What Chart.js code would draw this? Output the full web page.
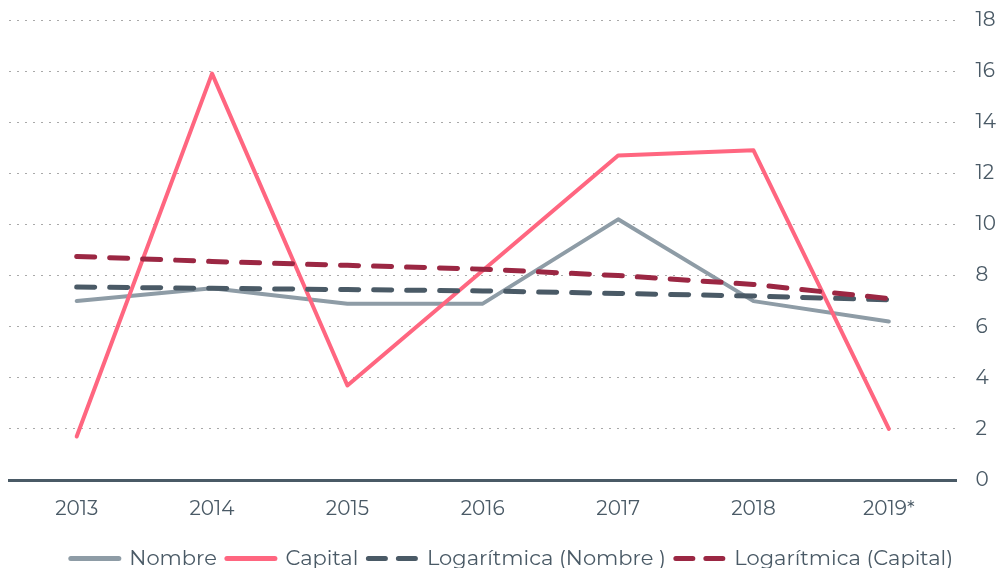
<!DOCTYPE html>
<html>
<head>
<meta charset="utf-8">
<script src="https://cdn.jsdelivr.net/npm/chart.js@4"></script>
<style>
  html, body { margin: 0; padding: 0; background: #fff; }
  #wrap { width: 1003px; height: 568px; }
</style>
</head>
<body>
<div id="wrap"><canvas id="lineChart"></canvas></div>
<script>
const years = ["2013", "2014", "2015", "2016", "2017", "2018", "2019*"];
const nombre = [7.0, 7.5, 6.9, 6.9, 10.2, 7.0, 6.2];
const capital = [1.7, 15.9, 3.7, 8.2, 12.7, 12.9, 2.0];
const logNombre = [7.55, 7.5, 7.45, 7.4, 7.3, 7.2, 7.05];
const logCapital = [8.75, 8.55, 8.4, 8.25, 8.0, 7.65, 7.1];
const yTicks = [0, 2, 4, 6, 8, 10, 12, 14, 16, 18];

const textColor = "#4a5a66";
const fontFamily = "Montserrat, 'Open Sans', sans-serif";

function drawLineChart() {
    "use strict";
    let ctx = document.getElementById("lineChart");
    let lineChart = new Chart(ctx, {
        type: 'line',
        data: {
            labels: years,
            datasets: [{
                label: "Nombre",
                borderColor: "#8e9ca6",
                backgroundColor: "#8e9ca6",
                borderWidth: 4,
                data: nombre,
                order: 4
            }, {
                label: "Capital",
                borderColor: "#ff6680",
                backgroundColor: "#ff6680",
                borderWidth: 4,
                data: capital,
                order: 3
            }, {
                label: "Logarítmica (Nombre )",
                borderColor: "#4a5a66",
                backgroundColor: "#4a5a66",
                borderWidth: 5,
                borderDash: [18, 15],
                borderCapStyle: 'round',
                data: logNombre,
                order: 2
            }, {
                label: "Logarítmica (Capital)",
                borderColor: "#9b2743",
                backgroundColor: "#9b2743",
                borderWidth: 5,
                borderDash: [18, 15],
                borderCapStyle: 'round',
                data: logCapital,
                order: 1
            }]
        },
        options: {
            responsive: true,
            maintainAspectRatio: false,
            animation: false,
            layout: {
                padding: { top: 20, left: 9, right: -12, bottom: -11 }
            },
            elements: {
                line: { tension: 0, borderCapStyle: 'round', borderJoinStyle: 'round' },
                point: { radius: 0 }
            },
            plugins: {
                tooltip: { enabled: false },
                legend: {
                    position: 'bottom',
                    sort: (a, b) => a.datasetIndex - b.datasetIndex,
                    labels: {
                        usePointStyle: true,
                        pointStyle: 'line',
                        pointStyleWidth: 48,
                        boxWidth: 48,
                        boxHeight: 20,
                        padding: 10,
                        color: textColor,
                        font: { family: fontFamily, size: 21 },
                        generateLabels: function (chart) {
                            return chart.data.datasets.map((ds, i) => ({
                                text: ds.label,
                                fillStyle: ds.borderColor,
                                strokeStyle: ds.borderColor,
                                lineWidth: 5,
                                lineDash: ds.borderDash ? [17, 13] : [],
                                lineCap: 'round',
                                pointStyle: 'line',
                                fontColor: textColor,
                                datasetIndex: i,
                                hidden: false
                            }));
                        }
                    }
                }
            },
            scales: {
                x: {
                    offset: true,
                    grid: { display: false, drawTicks: false, offset: true },
                    border: { display: true, color: "#4a5a66", width: 3 },
                    ticks: {
                        color: textColor,
                        padding: 17,
                        font: { family: fontFamily, size: 20 }
                    }
                },
                y: {
                    position: 'right',
                    min: 0,
                    max: 18,
                    afterBuildTicks: function (axis) {
                        axis.ticks = yTicks.map(v => ({ value: v }));
                    },
                    afterFit: function (axis) {
                        // keep the wide label gap from pushing the plot top down
                        axis.paddingTop = 0;
                        axis.paddingBottom = 0;
                    },
                    border: { display: false, dash: [2, 6] },
                    grid: {
                        color: "#a9a9a9",
                        lineWidth: 1,
                        drawTicks: false
                    },
                    ticks: {
                        color: textColor,
                        padding: 19,
                        font: { family: fontFamily, size: 20 }
                    }
                }
            }
        }
    });
}
drawLineChart();
</script>
</body>
</html>
